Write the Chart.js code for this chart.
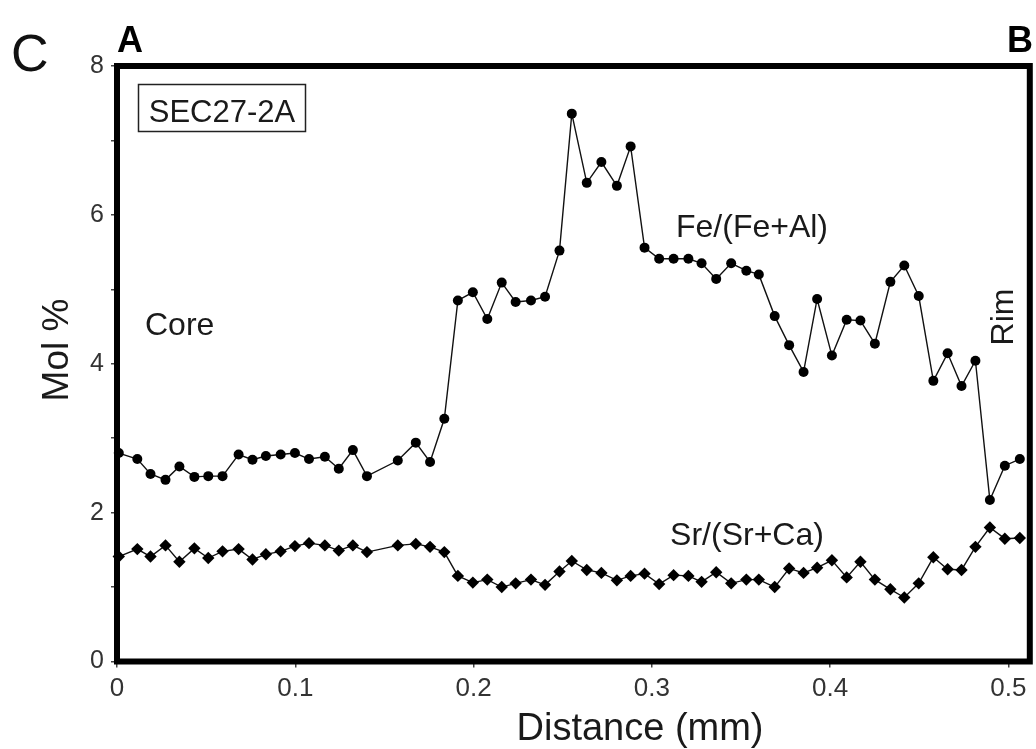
<!DOCTYPE html>
<html>
<head>
<meta charset="utf-8">
<script src="https://cdn.jsdelivr.net/npm/chart.js@4/dist/chart.umd.min.js"></script>
<style>
  html, body { margin: 0; padding: 0; background: #fff; }
  #wrap { width: 1036px; height: 749px; position: relative; }
</style>
</head>
<body>
<div id="wrap"><canvas id="c" width="1036" height="749"></canvas></div>
<script>
// ---- Data ----
const distanceMm = [
  0.001, 0.0114, 0.0188, 0.0272, 0.0350, 0.0434, 0.0512, 0.0592, 0.0682, 0.0760,
  0.0835, 0.0918, 0.0998, 0.1077, 0.1166, 0.1244, 0.1323, 0.1402, 0.1575, 0.1676,
  0.1756, 0.1836, 0.1912, 0.1996, 0.2077, 0.2158, 0.2236, 0.2322, 0.2401, 0.2482,
  0.2551, 0.2635, 0.2717, 0.2804, 0.2881, 0.2959, 0.3041, 0.3122, 0.3205, 0.3279,
  0.3361, 0.3445, 0.3530, 0.3600, 0.3689, 0.3770, 0.3851, 0.3927, 0.4010, 0.4093,
  0.4170, 0.4251, 0.4338, 0.4416, 0.4497, 0.4579, 0.4659, 0.4737, 0.4815, 0.4896,
  0.4980, 0.5064
];
const feFeAl = [
  2.80, 2.72, 2.52, 2.44, 2.62, 2.48, 2.49, 2.49, 2.78, 2.71,
  2.76, 2.78, 2.80, 2.72, 2.75, 2.59, 2.84, 2.49, 2.70, 2.94,
  2.68, 3.26, 4.85, 4.96, 4.60, 5.09, 4.83, 4.85, 4.90, 5.52,
  7.36, 6.43, 6.71, 6.39, 6.92, 5.56, 5.41, 5.41, 5.41, 5.35,
  5.14, 5.35, 5.25, 5.20, 4.64, 4.25, 3.89, 4.87, 4.11, 4.59,
  4.58, 4.27, 5.10, 5.32, 4.91, 3.77, 4.14, 3.70, 4.04, 2.17,
  2.63, 2.72
];
const srSrCa = [
  1.41, 1.51, 1.41, 1.56, 1.34, 1.52, 1.39, 1.48, 1.51, 1.37,
  1.44, 1.48, 1.55, 1.59, 1.56, 1.49, 1.56, 1.47, 1.56, 1.58,
  1.54, 1.47, 1.15, 1.06, 1.10, 1.00, 1.05, 1.10, 1.03, 1.21,
  1.35, 1.23, 1.19, 1.09, 1.15, 1.18, 1.04, 1.16, 1.15, 1.07,
  1.20, 1.05, 1.10, 1.10, 1.00, 1.25, 1.19, 1.26, 1.36, 1.13,
  1.34, 1.10, 0.97, 0.86, 1.05, 1.40, 1.24, 1.23, 1.54, 1.80,
  1.65, 1.66
];
const xTickStep = 0.1;
const yTickStep = 1;
const yLabelEvery = 2;
const xMin = 0, xMax = 0.512;
const yMin = 0, yMax = 8;

const FONT = "'Liberation Sans', Arial, Helvetica, sans-serif";
Chart.defaults.font.family = FONT;

const framePlugin = {
  id: 'frame',
  afterDatasetsDraw(chart) {
    const { ctx, chartArea: a } = chart;
    ctx.save();
    ctx.strokeStyle = '#000';
    ctx.lineWidth = 6;
    ctx.strokeRect(a.left, a.top, a.right - a.left, a.bottom - a.top);
    ctx.restore();
  }
};

const textPlugin = {
  id: 'texts',
  afterDraw(chart) {
    const ctx = chart.ctx;
    ctx.save();
    ctx.textBaseline = 'alphabetic';
    const t = (s, x, y, font, align, color, rot) => {
      ctx.save();
      ctx.font = font;
      ctx.fillStyle = color || '#1a1a1a';
      ctx.textAlign = align || 'left';
      ctx.translate(x, y);
      if (rot) ctx.rotate(rot);
      ctx.fillText(s, 0, 0);
      ctx.restore();
    };
    t('C', 11, 71, '52px ' + FONT, 'left', '#111');
    t('A', 117, 52, 'bold 36px ' + FONT, 'left', '#000');
    t('B', 1007, 52, 'bold 36px ' + FONT, 'left', '#000');
    // sample label box
    ctx.strokeStyle = '#222';
    ctx.lineWidth = 1.5;
    ctx.strokeRect(138.5, 84.5, 167, 47);
    t('SEC27-2A', 222, 122, '31px ' + FONT, 'center', '#1a1a1a');
    t('Fe/(Fe+Al)', 752, 237, '32px ' + FONT, 'center');
    t('Core', 145, 335, '32px ' + FONT, 'left');
    t('Sr/(Sr+Ca)', 747, 545, '32px ' + FONT, 'center');
    t('Rim', 1013, 317, '32px ' + FONT, 'center', '#1a1a1a', -Math.PI / 2);
    t('Mol %', 68, 350, '37px ' + FONT, 'center', '#1a1a1a', -Math.PI / 2);
    t('Distance (mm)', 640, 740, '38px ' + FONT, 'center');
    ctx.restore();
  }
};

const mk = (ys) => distanceMm.map((x, i) => ({ x: x, y: ys[i] }));

new Chart(document.getElementById('c'), {
  type: 'scatter',
  data: {
    datasets: [
      {
        label: 'Fe/(Fe+Al)',
        data: mk(feFeAl),
        showLine: true,
        borderColor: '#111',
        borderWidth: 1.4,
        pointStyle: 'circle',
        pointRadius: 5,
        pointBackgroundColor: '#000',
        pointBorderColor: '#000',
        pointBorderWidth: 0,
        clip: false
      },
      {
        label: 'Sr/(Sr+Ca)',
        data: mk(srSrCa),
        showLine: true,
        borderColor: '#111',
        borderWidth: 1.4,
        pointStyle: 'rectRot',
        pointRadius: 6.2,
        pointBackgroundColor: '#000',
        pointBorderColor: '#000',
        pointBorderWidth: 0,
        clip: false
      }
    ]
  },
  options: {
    responsive: false,
    animation: false,
    events: [],
    layout: { padding: { left: 0, right: 3, top: 66, bottom: 0 } },
    plugins: { legend: { display: false }, tooltip: { enabled: false } },
    scales: {
      x: {
        type: 'linear',
        min: xMin,
        max: xMax,
        afterFit(s) { s.height = 87.5; },
        border: { display: false },
        grid: { drawOnChartArea: false, drawTicks: true, tickLength: 6, color: '#444', lineWidth: 1.5 },
        ticks: {
          stepSize: xTickStep,
          includeBounds: false,
          padding: 6,
          color: '#333',
          font: { size: 26 },
          maxRotation: 0,
          callback: (v) => Number(v.toFixed(1)).toString()
        }
      },
      y: {
        type: 'linear',
        min: yMin,
        max: yMax,
        afterFit(s) { s.width = 117; },
        border: { display: false },
        grid: { drawOnChartArea: false, drawTicks: true, tickLength: 6, color: '#444', lineWidth: 1.5 },
        ticks: {
          stepSize: yTickStep,
          padding: 7,
          color: '#333',
          font: { size: 25 },
          callback: (v) => (Math.round(v) % yLabelEvery === 0 ? String(v) : '')
        }
      }
    }
  },
  plugins: [framePlugin, textPlugin]
});
</script>
</body>
</html>
